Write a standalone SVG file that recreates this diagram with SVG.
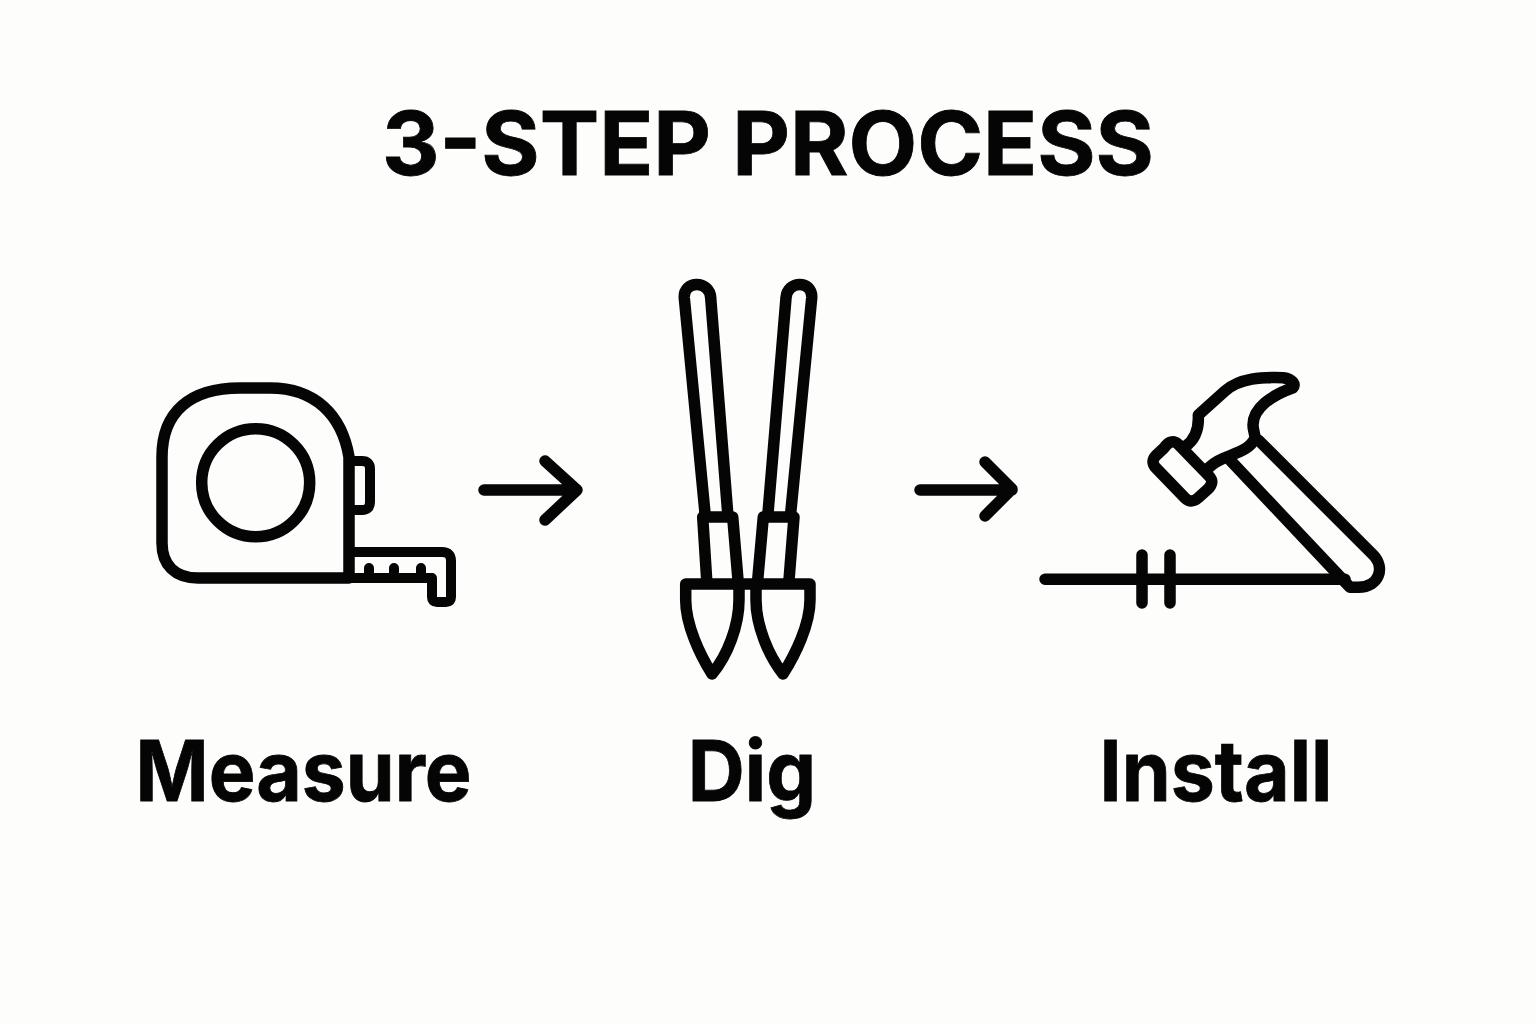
<svg xmlns="http://www.w3.org/2000/svg" width="1536" height="1024" viewBox="0 0 1536 1024">
<style>
.bg{fill:#fdfdfb}
.t{font-family:Inter,"Liberation Sans",sans-serif;font-weight:700;fill:#050505;stroke:#050505;stroke-width:.8;text-anchor:middle}
.s{fill:none;stroke:#050505;stroke-width:11.500;stroke-linecap:round;stroke-linejoin:round}
.n{stroke-width:10}
</style>
<rect class="bg" width="1536" height="1024"/>
<text class="t" id="title" transform="translate(768 175) scale(1.013 1)" font-size="88">3-STEP PROCESS</text>
<g id="measure">
<path class="s" d="M349 578H198C175 578 162 565 162 543V457C162 412 190 388 240 388H270C315 388 342 415 349 457V578"/>
<circle class="s" cx="255.700" cy="482.700" r="54"/>
<path class="s n" d="M350 461H362Q370 461 370 469V502Q370 510 362 510H350"/>
<path class="s n" d="M350 552H442Q451 552 451 561V597Q451 602 446 602H437Q432 602 432 597V578H350"/>
<path class="s n" d="M369 568V578M394 568V578M421 568V578"/>
<text class="t" transform="translate(303.500 801) scale(.935 1)" font-size="84">Measure</text>
</g>
<g id="dig">
<path class="s" d="M705 513L684.300 298C683 280 710 280 710.700 298L727.700 513"/>
<path class="s" d="M702.700 517H732.700L738 580M702.700 517L706.700 580"/>
<path class="s" d="M768 513L786 298C787 280 813 280 811.700 298L790.700 513"/>
<path class="s" d="M763.300 517H794L789 580M763.300 517L757.700 580"/>
<path class="s" d="M685.700 584H810V600C810 625 795 655 783 674C768 655 756 625 756 600V584M685.700 584V600C685.700 625 700 655 712 674C728 655 739 625 739 600V584"/>
<text class="t" transform="translate(752 801) scale(.94 1)" font-size="84">Dig</text>
</g>
<g id="install">
<path class="s" d="M1164 448L1156 455.500Q1150 461.700 1156 468L1185 498Q1191 504 1198 498L1208 489Q1215 482 1209 476L1178 444Q1171 438 1164 448Z"/>
<path class="s" d="M1185 446.700C1195 440 1199 428 1198.300 415L1225 391C1240 378 1262 377 1283.300 377.700C1293 379 1296 385 1293 387.700C1272 395 1253 408 1253 425C1253 430 1255 434 1255 438C1250 450 1235 453 1222 459C1215 462 1210 466 1207 470"/>
<path class="s" d="M1258.300 440L1373.300 555C1385 567 1380 587 1358.300 587.300H1350L1230 460"/>
<path class="s" d="M1045 579.300H1345M1142 555V603M1170 555V603"/>
<text class="t" transform="translate(1216 801) scale(.938 1)" font-size="84">Install</text>
</g>
<g id="connectors">
<path class="s" d="M484 490H576M545 461L577 490L545 520"/>
<path class="s" d="M920 490H1012M985 462L1012 489L985 516"/>
</g>
</svg>
